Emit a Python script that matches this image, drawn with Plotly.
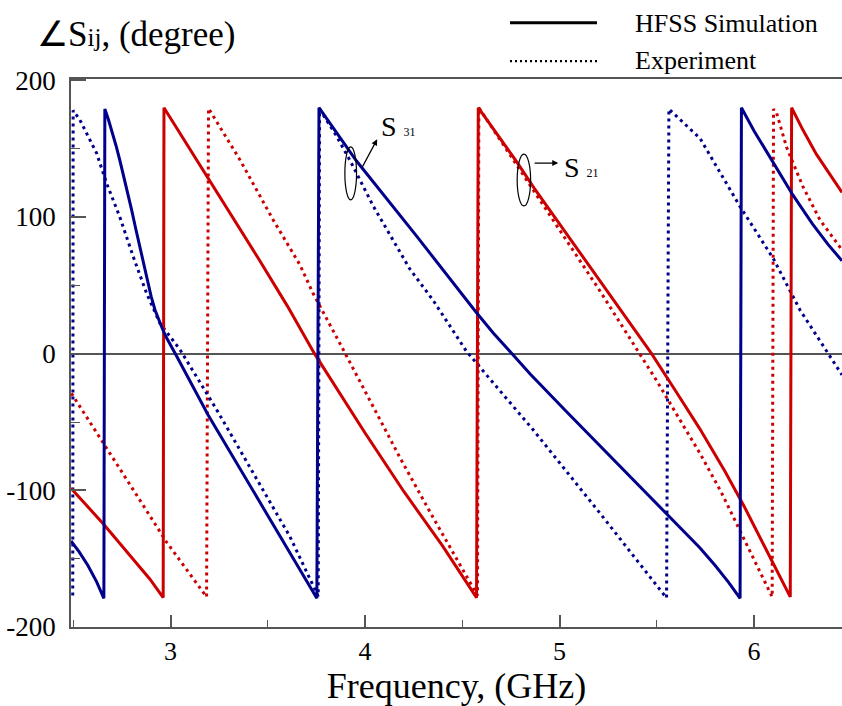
import plotly.graph_objects as go

FONT = "Liberation Serif, Times New Roman, serif"
BLUE = "#00008b"
RED = "#cc0000"

# ---- data (frequency in GHz, phase in degrees) ----
s31_sim_f = [2.488, 2.53, 2.575, 2.62, 2.657, 2.662, 2.68, 2.70, 2.72, 2.74, 2.76, 2.78, 2.80,
             2.82, 2.84, 2.86, 2.88, 2.90, 2.92, 2.94, 2.96, 2.98, 3.00, 3.03, 3.193, 3.4, 3.571,
             3.752, 3.763, 3.956, 4.265, 4.45, 4.573, 4.66, 4.75, 4.85, 5.036, 5.378, 5.6, 5.721,
             5.80, 5.87, 5.928, 5.935, 6.0, 6.1, 6.2, 6.3, 6.38, 6.452]
s31_sim_deg = [-137, -145, -155, -167, -179, 179, 171.5, 162.5, 152, 141, 129.5, 117.5, 105,
               92, 79, 66, 53.5, 42, 32, 24, 17.5, 11.5, 6, -1.5, -44.8, -94.5, -135.5,
               -179, 180, 141, 86, 52, 30, 15, 0.5, -15, -42.5, -92, -124, -142,
               -155, -167.5, -179, 180, 163, 139, 116, 95, 80, 68]

s31_exp_f = [2.497, 2.499, 2.534, 2.62, 2.671, 2.739, 2.808, 2.877, 2.945, 3.048, 3.237, 3.42,
             3.613, 3.759, 3.766, 3.85, 3.924, 4.042, 4.15, 4.23, 4.35, 4.45, 4.52, 4.6, 4.864,
             5.207, 5.55, 5.562, 5.722, 5.928, 6.098, 6.236, 6.39, 6.452]
s31_exp_deg = [-177, 178, 171, 146.6, 124.7, 100, 71, 44, 22.3, 3, -41, -86,
               -133.7, -177.6, 179, 160, 141, 108, 82, 62, 39, 17, 2, -11.5, -55.7,
               -116.6, -178.8, 179, 157.6, 107.6, 69.8, 32, -2, -15.5]

s21_sim_f = [2.488, 2.657, 2.894, 2.962, 2.966, 3.2, 3.45, 3.6, 3.74, 4.0, 4.2, 4.4, 4.573, 4.582,
             4.70, 4.779, 4.87, 5.0, 5.207, 5.35, 5.473, 5.6, 5.721, 5.85, 5.95, 6.05, 6.186,
             6.193, 6.25, 6.32, 6.39, 6.452]
s21_sim_deg = [-98.4, -125, -165, -178.5, 180, 127, 70, 35, 0, -58, -101, -141, -178.5, 180,
               156, 140.5, 121, 95, 54, 25, 0, -28, -55, -86, -112, -140, -178,
               180, 164, 146, 131, 118]

s21_exp_f = [2.49, 2.64, 2.81, 2.98, 3.185, 3.195, 3.356, 3.527, 3.665, 3.733, 3.88, 4.179, 4.35,
             4.522, 4.578, 4.585, 4.70, 4.779, 4.87, 5.0, 5.1, 5.207, 5.30, 5.41, 5.5, 5.6,
             5.721, 5.83, 5.93, 6.02, 6.093, 6.1, 6.116, 6.167, 6.252, 6.339, 6.452]
s21_exp_deg = [-29, -62, -100, -138, -178, 179.5, 142, 98, 65, 44, 5, -76, -120,
               -163, -177, 180, 155, 138, 118, 90, 69, 46, 25, 0, -20, -44,
               -72.8, -101, -130, -156, -178, 179, 176, 151, 122, 97.8, 76]

x_tick_vals = [3, 4, 5, 6]
x_tick_text = ["3", "4", "5", "6"]
y_tick_vals = [-200, -100, 0, 100, 200]
y_tick_text = ["-200", "-100", "0", "100", "200"]

fig = go.Figure()

dot_style = "3px,4px"
fig.add_trace(go.Scatter(x=s21_exp_f, y=s21_exp_deg, mode="lines", name="S21 Experiment",
                         line=dict(color=RED, width=3, dash=dot_style)))
fig.add_trace(go.Scatter(x=s31_exp_f, y=s31_exp_deg, mode="lines", name="S31 Experiment",
                         line=dict(color=BLUE, width=3, dash=dot_style)))
fig.add_trace(go.Scatter(x=s21_sim_f, y=s21_sim_deg, mode="lines", name="S21 HFSS",
                         line=dict(color=RED, width=3)))
fig.add_trace(go.Scatter(x=s31_sim_f, y=s31_sim_deg, mode="lines", name="S31 HFSS",
                         line=dict(color=BLUE, width=3)))

axis_col = "#555555"
fig.update_xaxes(range=[2.488, 6.452], showgrid=False, zeroline=False, automargin=False,
                 showline=True, linecolor=axis_col, linewidth=1.5, mirror=True,
                 ticks="inside", ticklen=12, tickwidth=1.5, tickcolor=axis_col,
                 tickvals=x_tick_vals, ticktext=x_tick_text,
                 minor=dict(dtick=0.5, tick0=2.5, ticks="inside", ticklen=7, tickwidth=1.2, tickcolor=axis_col),
                 tickfont=dict(family=FONT, size=26, color="black"),
                 ticklabelstandoff=0,
                 title=dict(text="Frequency, (GHz)", font=dict(family=FONT, size=36, color="black"), standoff=3))
fig.update_yaxes(range=[-200, 201], showgrid=False, automargin=False,
                 zeroline=True, zerolinecolor=axis_col, zerolinewidth=1.5,
                 showline=True, linecolor=axis_col, linewidth=1.5,
                 ticks="inside", ticklen=15, tickwidth=1.5, tickcolor=axis_col,
                 tickvals=y_tick_vals, ticktext=y_tick_text,
                 minor=dict(dtick=50, tick0=0, ticks="inside", ticklen=9, tickwidth=1.2, tickcolor=axis_col),
                 tickfont=dict(family=FONT, size=27, color="black"),
                 ticklabelstandoff=8)

shapes = [
    # legend samples
    dict(type="line", xref="paper", yref="paper", x0=0.5694, x1=0.6822, y0=1.1027, y1=1.1027,
         line=dict(color="black", width=3)),
    dict(type="line", xref="paper", yref="paper", x0=0.5694, x1=0.6822, y0=1.0328, y1=1.0328,
         line=dict(color="black", width=2.2, dash="2px,3px")),
    # ellipses marking curves
    dict(type="circle", xref="x", yref="y", x0=3.896, x1=3.956, y0=112.5, y1=151.4,
         line=dict(color="black", width=1.2)),
    dict(type="circle", xref="x", yref="y", x0=4.782, x1=4.851, y0=108.1, y1=146.1,
         line=dict(color="black", width=1.2)),
]

annotations = [
    dict(text="∠S<span style='font-size:25px'>ij</span>, (degree)", xref="paper", yref="paper",
         x=-0.0467, y=1.082, xanchor="left", yanchor="middle", showarrow=False,
         font=dict(family=FONT, size=35, color="black")),
    dict(text="HFSS Simulation", xref="paper", yref="paper", x=0.7285, y=1.1016,
         xanchor="left", yanchor="middle", showarrow=False,
         font=dict(family=FONT, size=26, color="black")),
    dict(text="Experiment", xref="paper", yref="paper", x=0.7285, y=1.0335,
         xanchor="left", yanchor="middle", showarrow=False,
         font=dict(family=FONT, size=26, color="black")),
    dict(text="S <span style='font-size:12px'>31</span>", xref="x", yref="y", x=4.071, y=166.5,
         xanchor="left", yanchor="middle", showarrow=False,
         font=dict(family=FONT, size=28, color="black")),
    dict(text="S <span style='font-size:12px'>21</span>", xref="x", yref="y", x=5.012, y=135.9,
         xanchor="left", yanchor="middle", showarrow=False,
         font=dict(family=FONT, size=28, color="black")),
    dict(text="", xref="x", yref="y", x=4.0622, y=156.9, axref="x", ayref="y", ax=3.982, ay=135.6,
         showarrow=True, arrowhead=2, arrowsize=1, arrowwidth=1.2, arrowcolor="black"),
    dict(text="", xref="x", yref="y", x=4.993, y=139.5, axref="x", ayref="y", ax=4.864, ay=139.5,
         showarrow=True, arrowhead=2, arrowsize=1, arrowwidth=1.2, arrowcolor="black"),
]

fig.update_layout(width=842, height=706, margin=dict(l=71, r=0, t=79, b=79),
                  plot_bgcolor="white", paper_bgcolor="white", showlegend=False,
                  shapes=shapes, annotations=annotations,
                  font=dict(family=FONT, color="black"))

fig.write_html("out.html", config={"displayModeBar": False},
               post_script="document.body.style.margin='0px';document.body.style.overflow='hidden';")
